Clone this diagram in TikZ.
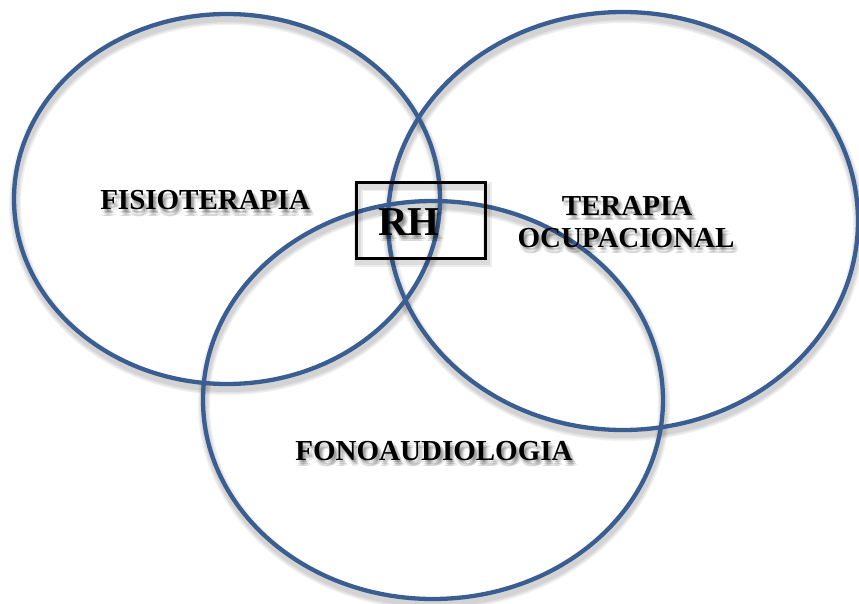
\documentclass[tikz,border=0pt]{standalone}
\usepackage{fontspec}
\setmainfont{Liberation Serif}
\begin{document}
\definecolor{ringblue}{RGB}{58,94,145}
\tikzset{
  ring/.style={draw=ringblue, line width=4.3pt},
  ringshade/.style={draw=black, line width=#1, draw opacity=0.06},
  label/.style={font=\fontsize{29}{32}\selectfont\bfseries, text=black, inner sep=0pt, anchor=base},
  labelshade/.style={label, text=black, text opacity=0.08},
  rhbox/.style={draw=black, line width=3pt},
  rhshade/.style={draw=black, line width=#1, draw opacity=0.07},
}
% soft shadow copies of a text label, then the label itself
\newcommand\shadedlabel[4][]{%
  \foreach \dx/\dy [count=\k] in {1/2,3/2,2/4,4/4,1/6,3/6,5/5}{
    \node[labelshade,#1] (#2-s\k) at ([shift={(\dx pt,-\dy pt)}]#3) {#4};
  }
  \node[label,#1] (#2) at (#3) {#4};
}
\begin{tikzpicture}[x=1pt,y=-1pt]
  \useasboundingbox (0,0) rectangle (859,604);
  \fill[white] (0,0) rectangle (859,604);

  % centres of the three circles
  \coordinate (cF) at (227,199);
  \coordinate (cT) at (623,221);
  \coordinate (cO) at (433,400);

  % blurred shadows under the rings
  \foreach \w in {12pt,9pt,6pt}{
    \draw[ringshade=\w] ([shift={(1pt,-5pt)}]cF) ellipse [x radius=213pt, y radius=185pt];
    \draw[ringshade=\w] ([shift={(1pt,-5pt)}]cT) ellipse [x radius=235pt, y radius=209pt];
    \draw[ringshade=\w] ([shift={(1pt,-5pt)}]cO) ellipse [x radius=230pt, y radius=199pt];
  }

  % the three rings
  \draw[ring] (cF) ellipse [x radius=213pt, y radius=185pt];
  \draw[ring] (cT) ellipse [x radius=235pt, y radius=209pt];
  \draw[ring] (cO) ellipse [x radius=230pt, y radius=199pt];

  % central box
  \coordinate (rhA) at (356,183);
  \coordinate (rhB) at (485,258);
  \foreach \w in {9pt,6pt}{
    \draw[rhshade=\w] ([shift={(2pt,-4pt)}]rhA) rectangle ([shift={(2pt,-4pt)}]rhB);
  }
  \draw[rhbox] (rhA) rectangle (rhB);

  % labels (base positions)
  \coordinate (pF) at (205,210);
  \coordinate (pT1) at (627,215);
  \coordinate (pT2) at (626,247);
  \coordinate (pO) at (434,460);
  \coordinate (pR) at (409,235);

  \shadedlabel{fisio}{pF}{FISIOTERAPIA}
  \shadedlabel{terapia}{pT1}{TERAPIA}
  \shadedlabel{ocup}{pT2}{OCUPACIONAL}
  \shadedlabel{fono}{pO}{FONOAUDIOLOGIA}
  \shadedlabel[font=\fontsize{41}{44}\selectfont\bfseries]{rh}{pR}{RH}
\end{tikzpicture}
\end{document}
